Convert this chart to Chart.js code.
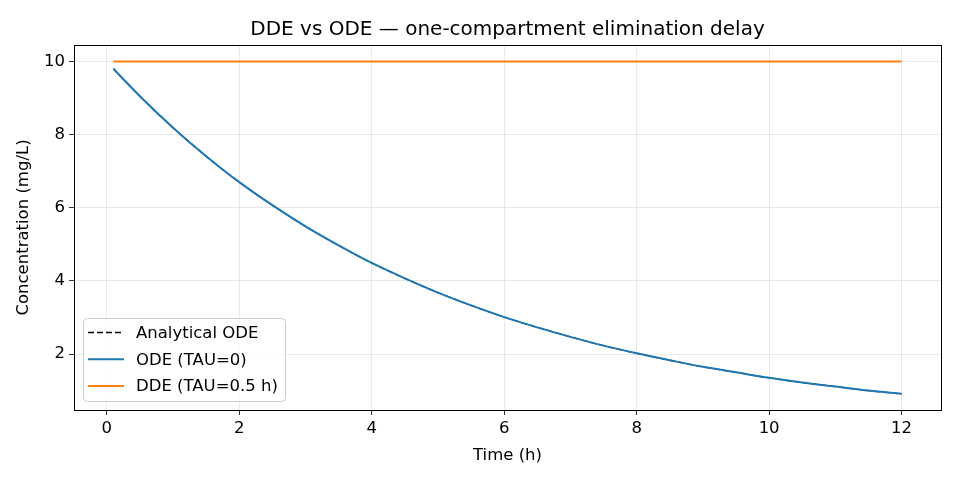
<!DOCTYPE html>
<html>
<head>
<meta charset="utf-8">
<script src="https://cdn.jsdelivr.net/npm/chart.js@4.4.1/dist/chart.umd.min.js"></script>
<style>
  html, body { margin: 0; padding: 0; background: #fff; }
  #wrap { width: 960px; height: 480px; }
</style>
</head>
<body>
<div id="wrap"><canvas id="chart" width="960" height="480"></canvas></div>
<script>
// values
const TITLE = "DDE vs ODE — one-compartment elimination delay";
const timeH = [0.1, 0.5, 1, 1.5, 2, 2.5, 3, 3.5, 4, 4.5, 5, 5.5, 6, 6.5, 7, 7.5, 8, 8.5, 9, 9.5, 10, 10.5, 11, 11.5, 12];
const analyticalOde = [9.80, 9.05, 8.19, 7.41, 6.70, 6.07, 5.49, 4.97, 4.49, 4.07, 3.68, 3.33, 3.01, 2.73, 2.47, 2.23, 2.02, 1.83, 1.65, 1.50, 1.35, 1.22, 1.11, 1.00, 0.91];
const odeTau0 = [9.80, 9.05, 8.19, 7.41, 6.70, 6.07, 5.49, 4.97, 4.49, 4.07, 3.68, 3.33, 3.01, 2.73, 2.47, 2.23, 2.02, 1.83, 1.65, 1.50, 1.35, 1.22, 1.11, 1.00, 0.91];
const ddeTau05 = [10, 10, 10, 10, 10, 10, 10, 10, 10, 10, 10, 10, 10, 10, 10, 10, 10, 10, 10, 10, 10, 10, 10, 10, 10];
const xTicks = [0, 2, 4, 6, 8, 10, 12];
const yTicks = [2, 4, 6, 8, 10];

const FONT = "DejaVu Sans";
const LABEL_SIZE = 16.5;
const TITLE_SIZE = 20;
const toPoints = (ys) => ys.map((y, i) => ({ x: timeH[i], y: y }));

// title centred over the plot area, frame and in-plot legend
const decorPlugin = {
  id: "decor",
  afterDraw(chart) {
    const ctx = chart.ctx;
    const a = chart.chartArea;
    ctx.save();
    // frame
    ctx.strokeStyle = "#000";
    ctx.lineWidth = 1;
    ctx.strokeRect(Math.round(a.left) + 0.5, Math.round(a.top) + 0.5, Math.round(a.right - a.left), Math.round(a.bottom - a.top));
    // title
    ctx.fillStyle = "#000";
    ctx.font = TITLE_SIZE + "px '" + FONT + "'";
    ctx.textAlign = "center";
    ctx.textBaseline = "middle";
    ctx.fillText(TITLE, (a.left + a.right) / 2, 30);
    // legend
    const bx = a.left + 9, by = a.top + 273, bw = 202, bh = 83;
    ctx.beginPath();
    ctx.roundRect(bx + 0.5, by + 0.5, bw, bh, 4);
    ctx.fillStyle = "rgba(255,255,255,0.8)";
    ctx.fill();
    ctx.strokeStyle = "#cccccc";
    ctx.lineWidth = 1;
    ctx.stroke();
    ctx.font = LABEL_SIZE + "px '" + FONT + "'";
    ctx.textAlign = "left";
    ctx.textBaseline = "middle";
    chart.data.datasets.forEach((ds, i) => {
      const y = by + 14.5 + i * 26.8;
      ctx.beginPath();
      ctx.strokeStyle = ds.borderColor;
      ctx.lineWidth = ds.borderWidth;
      ctx.setLineDash(ds.borderDash || []);
      ctx.moveTo(bx + 5, y);
      ctx.lineTo(bx + 41, y);
      ctx.stroke();
      ctx.setLineDash([]);
      ctx.fillStyle = "#000";
      ctx.fillText(ds.label, bx + 53, y + 1);
    });
    ctx.restore();
  }
};

const gridOpts = { color: "rgba(176,176,176,0.35)", tickColor: "#000", tickLength: 5, lineWidth: 0.8 };

new Chart(document.getElementById("chart").getContext("2d"), {
  type: "line",
  data: {
    datasets: [
      {
        label: "Analytical ODE",
        data: toPoints(analyticalOde),
        borderColor: "#000000",
        borderWidth: 1.3,
        borderDash: [6, 3],
        pointRadius: 0,
        cubicInterpolationMode: "monotone",
        order: 3,
      },
      {
        label: "ODE (TAU=0)",
        data: toPoints(odeTau0),
        borderColor: "#1f77b4",
        borderWidth: 2,
        pointRadius: 0,
        cubicInterpolationMode: "monotone",
        order: 2,
      },
      {
        label: "DDE (TAU=0.5 h)",
        data: toPoints(ddeTau05),
        borderColor: "#ff7f0e",
        borderWidth: 2,
        pointRadius: 0,
        order: 1,
      },
    ],
  },
  options: {
    responsive: false,
    animation: false,
    layout: { padding: { left: 0, right: 19, top: 45, bottom: 0 } },
    plugins: {
      legend: { display: false },
      title: { display: false },
      tooltip: { enabled: false },
    },
    scales: {
      x: {
        type: "linear",
        min: -0.495,
        max: 12.595,
        afterBuildTicks: (axis) => { axis.ticks = xTicks.map((v) => ({ value: v })); },
        afterFit: (axis) => { axis.height = 70; },
        ticks: { color: "#000", font: { family: FONT, size: LABEL_SIZE }, padding: 4, maxRotation: 0 },
        grid: gridOpts,
        border: { display: false },
        title: { display: true, text: "Time (h)", color: "#000", font: { family: FONT, size: LABEL_SIZE }, padding: { top: 4, bottom: 14 } },
      },
      y: {
        type: "linear",
        min: 0.47,
        max: 10.45,
        afterBuildTicks: (axis) => { axis.ticks = yTicks.map((v) => ({ value: v })); },
        afterFit: (axis) => { axis.width = 74; },
        ticks: { color: "#000", font: { family: FONT, size: LABEL_SIZE }, padding: 4 },
        grid: gridOpts,
        border: { display: false },
        title: { display: true, text: "Concentration (mg/L)", color: "#000", font: { family: FONT, size: LABEL_SIZE }, padding: { top: 14, bottom: 4 } },
      },
    },
  },
  plugins: [decorPlugin],
});
</script>
</body>
</html>
